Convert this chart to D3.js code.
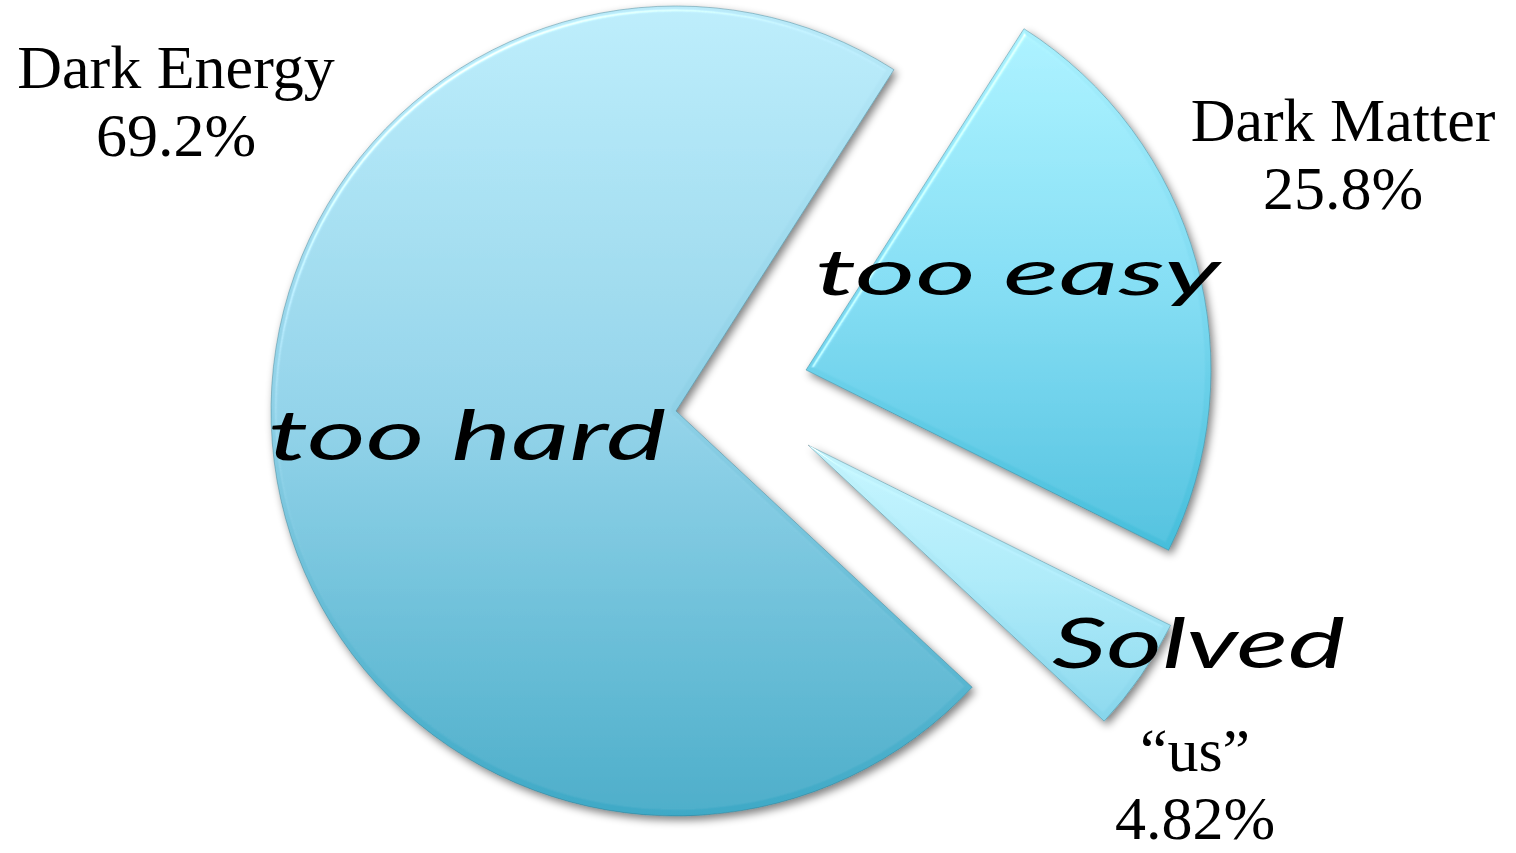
<!DOCTYPE html>
<html><head><meta charset="utf-8">
<script src="https://cdn.jsdelivr.net/npm/d3@7"></script>
<style>html,body{margin:0;padding:0;background:#fff;overflow:hidden}</style>
</head><body>
<svg id="chart" width="1516" height="853"></svg>
<script>
// ---- data ----
const categories = ["Dark Energy", "Dark Matter", "\u201Cus\u201D"];
const percentLabels = ["69.2%", "25.8%", "4.82%"];
const sliceShares = [72.1, 23.3, 4.6];          // wedge sizes as drawn in the picture
const notes = ["too hard", "too easy", "Solved"];

// ---- layout / style ----
const W = 1516, H = 853;
const center = [676, 411], R = 405;
const startDeg = 133;
const explode = [[0, 0], [130, -41], [132, 34]];
const gradStops = [
  ["#b9eaf9", "#8ed0e6", "#3ea9c6"],
  ["#a9f0fd", "#7edaf1", "#46bedb"],
  ["#c4f4fd", "#a9e7f6", "#86d5eb"]
];
const labelPos = [[176, 88], [1343, 141], [1195, 771]];
const lineGap = 68;
const notePos = [[268, 460, 398, 70], [815, 295, 405, 64], [1052, 668, 293, 70]];

const svg = d3.select("#chart");
const defs = svg.append("defs");

gradStops.forEach((s, i) => {
  const g = defs.append("linearGradient").attr("id", "g" + i)
    .attr("x1", 0).attr("y1", 0).attr("x2", 0).attr("y2", 1);
  g.append("stop").attr("offset", "0%").attr("stop-color", s[0]);
  g.append("stop").attr("offset", "50%").attr("stop-color", s[1]);
  g.append("stop").attr("offset", "100%").attr("stop-color", s[2]);
});

const f = defs.append("filter").attr("id", "bevel")
  .attr("x", "-10%").attr("y", "-10%").attr("width", "125%").attr("height", "125%");
f.append("feGaussianBlur").attr("in", "SourceAlpha").attr("stdDeviation", 2.5).attr("result", "blur");
const spec = f.append("feSpecularLighting").attr("in", "blur").attr("surfaceScale", 5)
  .attr("specularConstant", 0.9).attr("specularExponent", 30)
  .attr("lighting-color", "#ffffff").attr("result", "spec");
spec.append("feDistantLight").attr("azimuth", 235).attr("elevation", 40);
f.append("feComposite").attr("in", "spec").attr("in2", "SourceAlpha").attr("operator", "in").attr("result", "specIn");
f.append("feComposite").attr("in", "SourceGraphic").attr("in2", "specIn").attr("operator", "arithmetic")
  .attr("k1", 0).attr("k2", 1).attr("k3", 0.6).attr("k4", 0).attr("result", "lit");
f.append("feGaussianBlur").attr("in", "SourceAlpha").attr("stdDeviation", 4).attr("result", "sblur");
f.append("feOffset").attr("in", "sblur").attr("dx", 3).attr("dy", 4).attr("result", "soff");
f.append("feComponentTransfer").attr("in", "soff").attr("result", "shadow")
  .append("feFuncA").attr("type", "linear").attr("slope", 0.5);
const m = f.append("feMerge");
m.append("feMergeNode").attr("in", "shadow");
m.append("feMergeNode").attr("in", "lit");

const a0 = startDeg * Math.PI / 180;
const pie = d3.pie().sort(null).value(d => d).startAngle(a0).endAngle(a0 + 2 * Math.PI);
const arc = d3.arc().innerRadius(0).outerRadius(R);
const arcs = pie(sliceShares);

const pg = svg.append("g").attr("transform", `translate(${center[0]},${center[1]})`);
pg.selectAll("path").data(arcs).join("path")
  .attr("transform", (d, i) => `translate(${explode[i][0]},${explode[i][1]})`)
  .attr("d", arc)
  .attr("fill", (d, i) => `url(#g${i})`)
  .attr("stroke", "rgba(30,100,120,0.45)")
  .attr("stroke-width", 0.8)
  .attr("filter", "url(#bevel)");

// category labels
const lg = svg.append("g").attr("font-family", "'Liberation Serif','Times New Roman',serif")
  .attr("font-size", 62).attr("fill", "#000").attr("text-anchor", "middle");
categories.forEach((c, i) => {
  const t = lg.append("text").attr("x", labelPos[i][0]).attr("y", labelPos[i][1]);
  t.append("tspan").attr("x", labelPos[i][0]).text(c);
  t.append("tspan").attr("x", labelPos[i][0]).attr("dy", lineGap).text(percentLabels[i]);
});

// handwritten notes
const ng = svg.append("g").attr("font-family", "Lato,'Open Sans',sans-serif")
  .attr("font-style", "italic").attr("font-weight", 400).attr("fill", "#000");
notes.forEach((n, i) => {
  ng.append("text").attr("x", notePos[i][0]).attr("y", notePos[i][1])
    .attr("font-size", notePos[i][3])
    .attr("textLength", notePos[i][2]).attr("lengthAdjust", "spacingAndGlyphs")
    .text(n);
});
</script>
</body></html>
